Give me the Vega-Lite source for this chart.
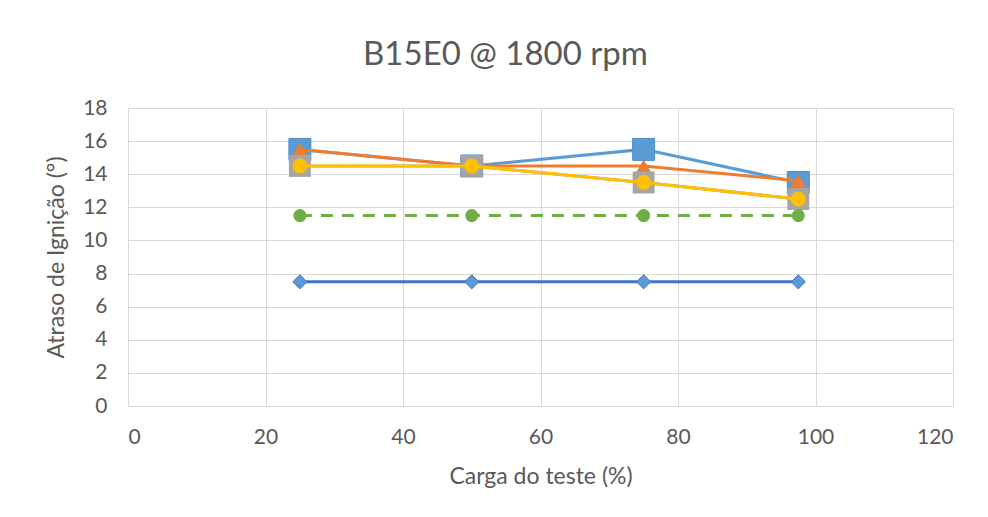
{
  "$schema": "https://vega.github.io/schema/vega-lite/v6.json",
  "width": 825,
  "height": 298,
  "autosize": {"type": "none"},
  "padding": {"left": 128, "top": 108, "right": 35, "bottom": 111},
  "background": "white",
  "title": {
    "text": "B15E0 @ 1800 rpm",
    "font": "Lato",
    "fontSize": 33,
    "fontWeight": "normal",
    "color": "#595959",
    "anchor": "middle",
    "dx": -35,
    "offset": 25
  },
  "config": {
    "view": {"stroke": "#d9d9d9", "strokeWidth": 1},
    "axis": {
      "labelFont": "Lato",
      "labelFontSize": 21,
      "labelColor": "#595959",
      "titleFont": "Lato",
      "titleFontSize": 23,
      "titleFontWeight": "normal",
      "titleColor": "#595959",
      "gridColor": "#d9d9d9",
      "gridWidth": 1,
      "domainColor": "#d9d9d9",
      "ticks": false
    }
  },
  "data": {
    "values": [
      {"s": "S1", "x": 25, "y": 15.5},
      {"s": "S1", "x": 50, "y": 14.5},
      {"s": "S1", "x": 75, "y": 15.5},
      {"s": "S1", "x": 97.5, "y": 13.5},
      {"s": "S2", "x": 25, "y": 15.5},
      {"s": "S2", "x": 50, "y": 14.5},
      {"s": "S2", "x": 75, "y": 14.5},
      {"s": "S2", "x": 97.5, "y": 13.6},
      {"s": "S3", "x": 25, "y": 14.5},
      {"s": "S3", "x": 50, "y": 14.5},
      {"s": "S3", "x": 75, "y": 13.5},
      {"s": "S3", "x": 97.5, "y": 12.5},
      {"s": "S4", "x": 25, "y": 14.5},
      {"s": "S4", "x": 50, "y": 14.5},
      {"s": "S4", "x": 75, "y": 13.5},
      {"s": "S4", "x": 97.5, "y": 12.5},
      {"s": "S5", "x": 25, "y": 7.5},
      {"s": "S5", "x": 50, "y": 7.5},
      {"s": "S5", "x": 75, "y": 7.5},
      {"s": "S5", "x": 97.5, "y": 7.5},
      {"s": "S6", "x": 25, "y": 11.5},
      {"s": "S6", "x": 50, "y": 11.5},
      {"s": "S6", "x": 75, "y": 11.5},
      {"s": "S6", "x": 97.5, "y": 11.5}
    ]
  },
  "encoding": {
    "x": {
      "field": "x", "type": "quantitative",
      "scale": {"domain": [0, 120], "nice": false},
      "axis": {"values": [0, 20, 40, 60, 80, 100, 120], "title": "Carga do teste (%)", "labelPadding": 20, "titlePadding": 18}
    },
    "y": {
      "field": "y", "type": "quantitative",
      "scale": {"domain": [0, 18], "nice": false},
      "axis": {"values": [0, 2, 4, 6, 8, 10, 12, 14, 16, 18], "title": "Atraso de Ignição (°)", "labelPadding": 21, "titlePadding": 14}
    }
  },
  "layer": [
    {
      "transform": [{"filter": "datum.s === 'S1'"}],
      "mark": {"type": "line", "color": "#5B9BD5", "strokeWidth": 3,
        "point": {"shape": "square", "size": 480, "filled": true, "color": "#5B9BD5", "stroke": "#4a8ac8", "strokeWidth": 1, "opacity": 1}}
    },
    {
      "transform": [{"filter": "datum.s === 'S2'"}],
      "mark": {"type": "line", "color": "#ED7D31", "strokeWidth": 3,
        "point": {"shape": "triangle-up", "size": 230, "filled": true, "color": "#ED7D31", "opacity": 1}}
    },
    {
      "transform": [{"filter": "datum.s === 'S3'"}],
      "mark": {"type": "line", "color": "#A5A5A5", "strokeWidth": 3,
        "point": {"shape": "square", "size": 480, "filled": true, "color": "#A5A5A5", "opacity": 1}}
    },
    {
      "transform": [{"filter": "datum.s === 'S4'"}],
      "mark": {"type": "line", "color": "#FFC000", "strokeWidth": 3,
        "point": {"shape": "circle", "size": 220, "filled": true, "color": "#FFC000", "opacity": 1}}
    },
    {
      "transform": [{"filter": "datum.s === 'S5'"}],
      "mark": {"type": "line", "color": "#4472C4", "strokeWidth": 3,
        "point": {"shape": "diamond", "size": 200, "filled": true, "color": "#5B9BD5", "stroke": "#4472C4", "strokeWidth": 1, "opacity": 1}}
    },
    {
      "transform": [{"filter": "datum.s === 'S6'"}],
      "mark": {"type": "line", "color": "#70AD47", "strokeWidth": 3, "strokeDash": [12, 9],
        "point": {"shape": "circle", "size": 170, "filled": true, "color": "#70AD47", "opacity": 1}}
    }
  ]
}
